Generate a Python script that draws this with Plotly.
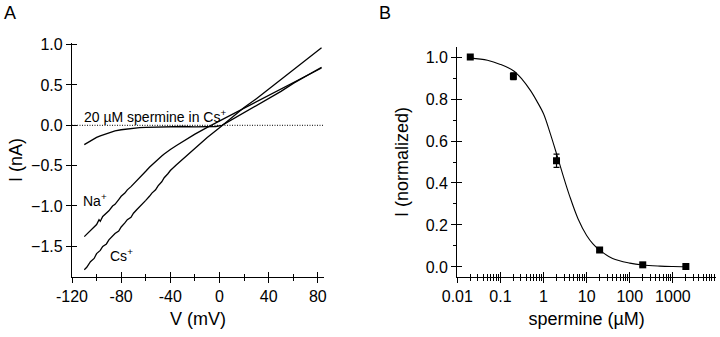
import plotly.graph_objects as go

# ---------------- Panel A data (I-V curves) ----------------
cs_v = [-110, -108, -105, -102, -100, -97, -95, -92, -90, -87, -85, -82, -80, -77, -75, -72, -70,
        -67, -65, -62, -60, -57, -55, -52, -50, -47, -45, -42, -40, -35, -30, -25, -20, -10, 0,
        10, 20, 30, 40, 50, 60, 70, 83]
cs_i = [-1.79, -1.76, -1.69, -1.65, -1.59, -1.55, -1.50, -1.47, -1.42, -1.37, -1.34, -1.31, -1.26,
        -1.21, -1.17, -1.14, -1.09, -1.04, -1.01, -0.97, -0.93, -0.88, -0.84, -0.80, -0.75, -0.70,
        -0.65, -0.60, -0.56, -0.49, -0.42, -0.35, -0.28, -0.15, -0.03,
        0.10, 0.22, 0.33, 0.45, 0.56, 0.68, 0.80, 0.96]

na_v = [-110, -108, -105, -103, -100, -98, -97, -95, -92, -90, -87, -85, -82, -80, -77, -75, -72,
        -70, -67, -65, -62, -60, -57, -55, -52, -50, -47, -45, -42, -40, -35, -30, -25, -20, -10,
        0, 10, 20, 30, 40, 50, 60, 70, 83]
na_i = [-1.38, -1.35, -1.30, -1.27, -1.23, -1.17, -1.19, -1.13, -1.09, -1.06, -1.00, -0.98, -0.92,
        -0.88, -0.84, -0.80, -0.76, -0.73, -0.68, -0.65, -0.60, -0.57, -0.52, -0.49, -0.45, -0.42,
        -0.38, -0.355, -0.32, -0.30, -0.25, -0.20, -0.155, -0.11, -0.025,
        0.055, 0.13, 0.21, 0.29, 0.37, 0.45, 0.53, 0.61, 0.71]

sp_v = [-110, -108, -106, -104, -102, -100, -97, -95, -92, -90, -87, -85, -80, -75, -70, -65, -60,
        -50, -40, -30, -20, -10, -3, 2, 10, 20, 30, 40, 50, 60, 70, 83]
sp_i = [-0.24, -0.22, -0.21, -0.18, -0.17, -0.15, -0.13, -0.12, -0.10, -0.09, -0.08, -0.07, -0.055,
        -0.045, -0.035, -0.03, -0.025, -0.02, -0.015, -0.015, -0.02, -0.02, -0.015, 0.0,
        0.07, 0.15, 0.24, 0.33, 0.42, 0.52, 0.61, 0.72]

# ---------------- Panel B data (dose-response) ----------------
conc = [0.02, 0.2, 2, 20, 200, 2000]
norm_i = [1.0, 0.909, 0.506, 0.081, 0.010, 0.002]
norm_err = [0.0, 0.016, 0.032, 0.008, 0.008, 0.0]

fit_conc = [0.02, 0.05, 0.1, 0.2, 0.316, 0.5, 0.7, 1, 1.41, 2, 2.8, 4, 6.3, 10, 14, 20, 40,
            100, 200, 500, 1000, 2000]
fit_i = [0.995, 0.985, 0.965, 0.935, 0.895, 0.84, 0.79, 0.73, 0.64, 0.54, 0.44, 0.34, 0.23,
         0.15, 0.11, 0.08, 0.04, 0.018, 0.009, 0.004, 0.002, 0.001]

a_xticks = [-120, -80, -40, 0, 40, 80]
a_yticks = [-1.5, -1.0, -0.5, 0.0, 0.5, 1.0]
b_xticks = [0.01, 0.1, 1, 10, 100, 1000]
b_xticklabels = ["0.01", "0.1", "1", "10", "100", "1000"]
b_xticks_all = [0.01, 0.1, 1, 10, 100, 1000, 10000]
b_xminor = [m * 10 ** e for e in range(-2, 4) for m in range(2, 10)]
b_yticks = [0.0, 0.2, 0.4, 0.6, 0.8, 1.0]

FONT = "Liberation Sans, Arial, sans-serif"
LW = 1.3

fig = go.Figure()
line = dict(color="black", width=LW)
fig.add_trace(go.Scatter(x=cs_v, y=cs_i, mode="lines", line=line, xaxis="x", yaxis="y", showlegend=False))
fig.add_trace(go.Scatter(x=na_v, y=na_i, mode="lines", line=line, xaxis="x", yaxis="y", showlegend=False))
fig.add_trace(go.Scatter(x=sp_v, y=sp_i, mode="lines", line=line, xaxis="x", yaxis="y", showlegend=False))

fig.add_trace(go.Scatter(x=fit_conc, y=fit_i, mode="lines", line=dict(color="black", width=1.1, shape="spline"),
                         xaxis="x2", yaxis="y2", showlegend=False))
fig.add_trace(go.Scatter(x=conc, y=norm_i, mode="markers",
                         marker=dict(symbol="square", size=7, color="black"),
                         error_y=dict(type="data", array=norm_err, color="black", thickness=1.2, width=3),
                         xaxis="x2", yaxis="y2", showlegend=False))

A_XD = [72 / 720, 324 / 720]
A_YD = [(337 - 277) / 337, (337 - 43) / 337]
B_XD = [457.3 / 720, 716 / 720]
B_YD = [(337 - 277) / 337, (337 - 47) / 337]
A_XR = [-120, 85]
A_YR = [-1.88, 1.02]
B_XR = [-2, 4.0]
B_YR = [-0.048, 1.048]

tickfont = dict(family=FONT, size=16, color="black")
titlefont = dict(family=FONT, size=18, color="black")

common = dict(showgrid=False, zeroline=False, linecolor="black", linewidth=LW, automargin=False,
              tickcolor="black", tickwidth=LW)
overlay = dict(showgrid=False, zeroline=False, showline=False, automargin=False,
               tickcolor="black", tickwidth=LW, showticklabels=False)

fig.update_layout(
    width=720, height=337,
    margin=dict(l=0, r=0, t=0, b=0, autoexpand=False),
    paper_bgcolor="white", plot_bgcolor="rgba(0,0,0,0)",
    font=dict(family=FONT, color="black"),
    # Panel A
    xaxis=dict(domain=A_XD, anchor="y", range=A_XR, showline=True, ticks="outside", ticklen=5,
               tickvals=a_xticks, ticktext=[str(v) for v in a_xticks], tickfont=tickfont,
               minor=dict(dtick=20, tick0=-120, ticks="outside", ticklen=3, tickcolor="black", tickwidth=LW),
               title=dict(text="V (mV)", font=titlefont, standoff=8), **common),
    yaxis=dict(domain=A_YD, anchor="x", range=A_YR, showline=True, ticks="outside", ticklen=5,
               tickvals=a_yticks, tickformat=".1f", tickfont=tickfont,
               title=dict(text="I (nA)", font=titlefont, standoff=3), **common),
    xaxis3=dict(overlaying="x", anchor="y", range=A_XR, ticks="inside", ticklen=5, tickvals=a_xticks,
                minor=dict(dtick=20, tick0=-120, ticks="inside", ticklen=3, tickcolor="black", tickwidth=LW),
                **overlay),
    yaxis3=dict(overlaying="y", anchor="x", range=A_YR, ticks="inside", ticklen=5, tickvals=a_yticks,
                **overlay),
    # Panel B
    xaxis2=dict(domain=B_XD, anchor="y2", type="log", range=B_XR, showline=True, ticks="outside", ticklen=5,
                tickvals=b_xticks, ticktext=b_xticklabels, tickfont=tickfont,
                minor=dict(tickvals=b_xminor, ticks="outside", ticklen=3, tickcolor="black", tickwidth=LW),
                title=dict(text="spermine (µM)", font=titlefont, standoff=8), **common),
    yaxis2=dict(domain=B_YD, anchor="x2", range=B_YR, showline=True, ticks="outside", ticklen=5,
                tickvals=b_yticks, tickformat=".1f", tickfont=tickfont,
                minor=dict(dtick=0.1, tick0=0, ticks="outside", ticklen=3, tickcolor="black", tickwidth=LW),
                title=dict(text="I (normalized)", font=titlefont, standoff=12), **common),
    xaxis4=dict(overlaying="x2", anchor="y2", type="log", range=B_XR, ticks="inside", ticklen=5,
                tickvals=b_xticks_all,
                minor=dict(tickvals=b_xminor, ticks="inside", ticklen=3, tickcolor="black", tickwidth=LW),
                **overlay),
    yaxis4=dict(overlaying="y2", anchor="x2", range=B_YR, ticks="inside", ticklen=5, tickvals=b_yticks,
                **overlay),
)

# dummy traces so overlay axes are drawn
fig.add_trace(go.Scatter(x=[None], y=[None], xaxis="x3", yaxis="y3", showlegend=False, hoverinfo="skip"))
fig.add_trace(go.Scatter(x=[None], y=[None], xaxis="x4", yaxis="y4", showlegend=False, hoverinfo="skip"))

# dotted zero line in panel A
fig.add_shape(type="line", xref="x domain", yref="y", x0=0, x1=1, y0=0, y1=0,
              line=dict(color="black", width=1, dash="1px,1.5px"))

ann_font = dict(family=FONT, size=14, color="black")
fig.add_annotation(x=-112, y=0.12, xref="x", yref="y", text="20 µM spermine in Cs<sup>+</sup>",
                   showarrow=False, xanchor="left", yanchor="middle", font=ann_font)
fig.add_annotation(x=-113, y=-0.92, xref="x", yref="y", text="Na<sup>+</sup>",
                   showarrow=False, xanchor="left", yanchor="middle", font=ann_font)
fig.add_annotation(x=-91, y=-1.61, xref="x", yref="y", text="Cs<sup>+</sup>",
                   showarrow=False, xanchor="left", yanchor="middle", font=ann_font)

fig.add_annotation(x=2 / 720, y=1 - 13 / 337, xref="paper", yref="paper", text="A", showarrow=False,
                   xanchor="left", yanchor="middle", font=dict(family=FONT, size=18, color="black"))
fig.add_annotation(x=377 / 720, y=1 - 13 / 337, xref="paper", yref="paper", text="B", showarrow=False,
                   xanchor="left", yanchor="middle", font=dict(family=FONT, size=18, color="black"))

# remove the browser's default 8px page margin so figure pixels map 1:1 to the window
fig.write_html("out.html", config={"displayModeBar": False},
               post_script="document.body.style.margin='0px';")
